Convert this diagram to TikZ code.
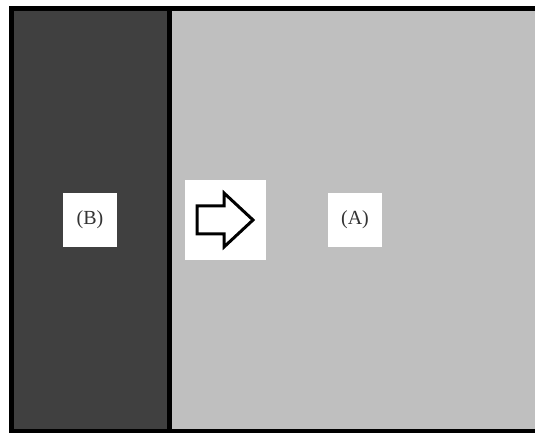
\documentclass[tikz,border=0pt]{standalone}
\usepackage{fontspec}
\setmainfont{Liberation Serif}
\usepackage{tikz}
\usetikzlibrary{positioning,calc}

\begin{document}
\begin{tikzpicture}[x=1pt,y=1pt]
			\tikzstyle{Frame}	= [line width=5pt, black]
			\tikzstyle{Dark}	= [fill=black!75]
			\tikzstyle{Light}	= [fill=black!25]
			\tikzstyle{Label}	= [rectangle, fill=white, minimum size=54pt, inner sep=0pt, text=black!80, font=\fontsize{20}{23}\selectfont]
			\tikzstyle{Pad}		= [rectangle, fill=white, minimum width=81pt, minimum height=80pt, inner sep=0pt]
			\tikzstyle{Arrow}	= [line width=3pt, fill=white, line join=miter]

			\useasboundingbox (0,0) rectangle (535,433);

			% regions
			\fill [Dark] (11,1.5) rectangle (169.5,424.5);
			\fill [Light] (169.5,1.5) rectangle (545,424.5);
			\draw [Frame] (545,424.5) -- (11,424.5) -- (11,1.5) -- (545,1.5);
			\draw [Frame] (169.5,424.5) -- (169.5,1.5);

			\node (b) at (90,213) [Label] {(B)};
			\node (pad) at (225.5,213) [Pad] {};
			\node (a) at (355,213) [Label] {(A)};

			\draw [Arrow] ($(pad)+(-28.5,14)$) -- ++(27,0) -- ++(0,13) -- ++(29,-27)
				-- ++(-29,-27) -- ++(0,13) -- ++(-27,0) -- cycle;
		\end{tikzpicture}
\end{document}
